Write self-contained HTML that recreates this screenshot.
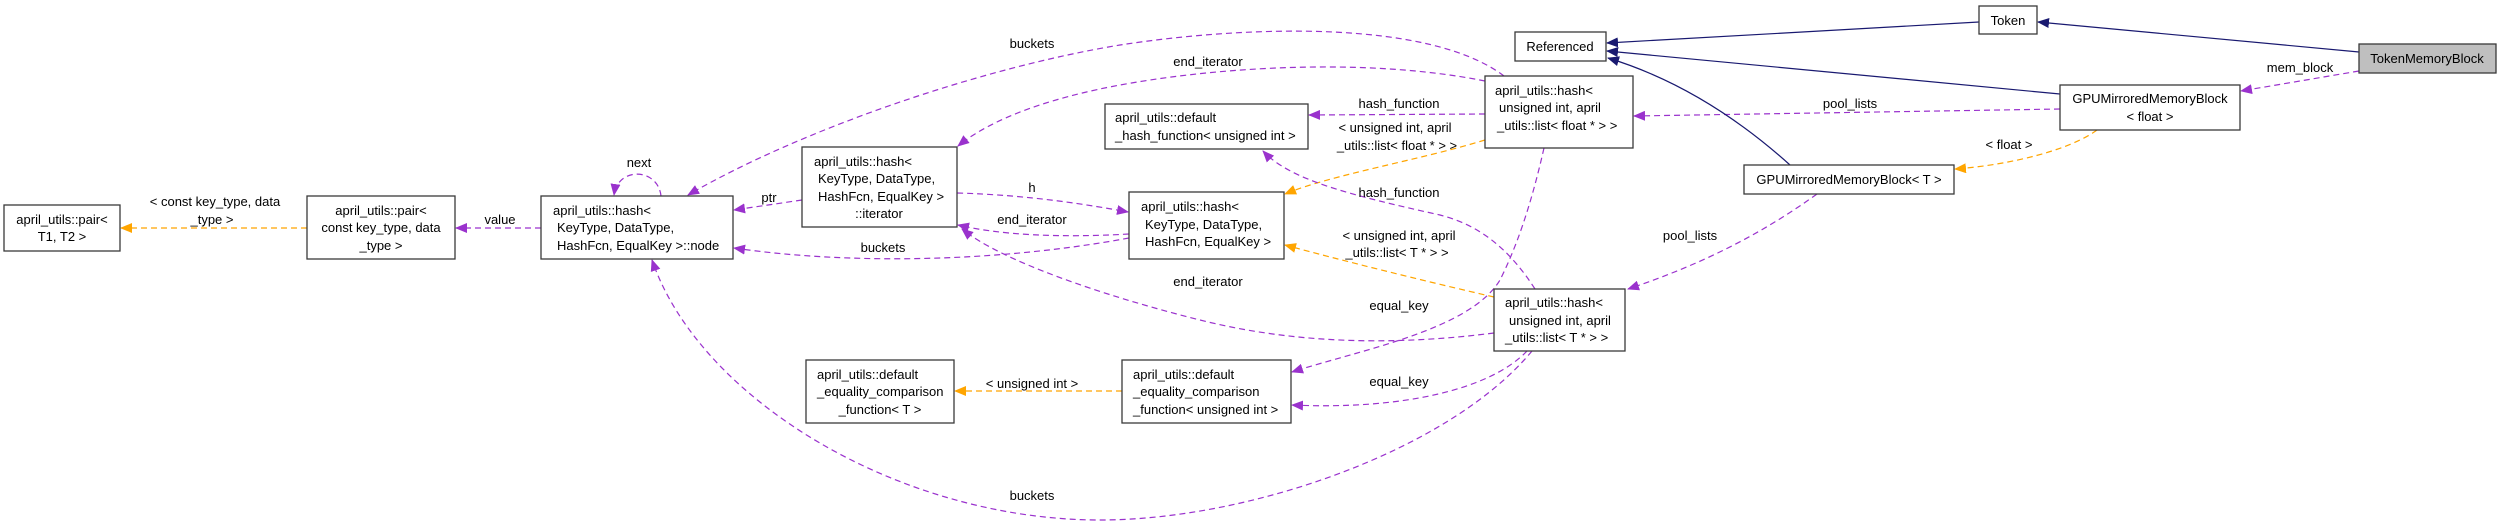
<!DOCTYPE html>
<html><head><meta charset="utf-8"><style>
html,body{margin:0;padding:0;background:#fff;}
svg{display:block;}
text{font-family:"Liberation Sans",Helvetica,sans-serif;font-size:13px;fill:#000;}
.b{fill:#fff;stroke:#3a3a3a;stroke-width:1.3;}
.p{fill:none;stroke:#9a32cd;stroke-width:1.2;stroke-dasharray:6,4;}
.o{fill:none;stroke:#ffa500;stroke-width:1.2;stroke-dasharray:6,4;}
.n{fill:none;stroke:#191970;stroke-width:1.2;}
</style></head><body>
<svg width="2504" height="526" viewBox="0 0 2504 526" xmlns="http://www.w3.org/2000/svg">
<defs>
<marker id="mp" markerWidth="12" markerHeight="10" refX="11" refY="5" orient="auto" markerUnits="userSpaceOnUse"><path d="M0,0 L12,5 L0,10 z" fill="#9a32cd"/></marker>
<marker id="mo" markerWidth="12" markerHeight="10" refX="11" refY="5" orient="auto" markerUnits="userSpaceOnUse"><path d="M0,0 L12,5 L0,10 z" fill="#ffa500"/></marker>
<marker id="mn" markerWidth="12" markerHeight="10" refX="11" refY="5" orient="auto" markerUnits="userSpaceOnUse"><path d="M0,0 L12,5 L0,10 z" fill="#191970"/></marker>
</defs>

<!-- edges -->
<path class="o" d="M307,228 L121,228" marker-end="url(#mo)"/>
<path class="p" d="M541,228 L456,228" marker-end="url(#mp)"/>
<path class="p" d="M661,196 C658,168 618,166 614,195" marker-end="url(#mp)"/>
<path class="p" d="M1504,76 C1430,20 1250,25 1120,45 C980,68 800,130 688,195" marker-end="url(#mp)"/>
<path class="p" d="M1485,81 C1380,60 1250,65 1150,80 C1050,95 990,120 958,146" marker-end="url(#mp)"/>
<path class="p" d="M1485,114 L1309,115" marker-end="url(#mp)"/>
<path class="o" d="M1485,140 C1420,160 1330,175 1285,194" marker-end="url(#mo)"/>
<path class="p" d="M1544,148 C1530,210 1515,250 1500,280 C1470,330 1360,350 1292,372" marker-end="url(#mp)"/>
<path class="p" d="M1535,289 C1510,250 1480,225 1440,215 C1350,195 1290,180 1263,151" marker-end="url(#mp)"/>
<path class="p" d="M802,200 L734,210" marker-end="url(#mp)"/>
<path class="p" d="M957,193 C1030,195 1090,205 1128,212" marker-end="url(#mp)"/>
<path class="p" d="M1129,234 C1060,238 1000,235 958,225" marker-end="url(#mp)"/>
<path class="p" d="M1129,238 C1000,262 850,265 734,248" marker-end="url(#mp)"/>
<path class="o" d="M1494,297 C1420,280 1340,260 1285,245" marker-end="url(#mo)"/>
<path class="p" d="M1494,333 C1400,345 1300,345 1200,320 C1100,295 1000,260 962,229" marker-end="url(#mp)"/>
<path class="p" d="M1527,351 C1490,390 1400,410 1292,405" marker-end="url(#mp)"/>
<path class="p" d="M1532,351 C1450,450 1250,520 1100,520 C900,520 700,400 652,260" marker-end="url(#mp)"/>
<path class="o" d="M1122,391 L955,391" marker-end="url(#mo)"/>
<path class="p" d="M1817,194 C1760,235 1700,265 1628,289" marker-end="url(#mp)"/>
<path class="p" d="M2060,109 L1634,116" marker-end="url(#mp)"/>
<path class="o" d="M2097,130 C2070,150 2010,165 1955,169" marker-end="url(#mo)"/>
<path class="p" d="M2359,71 L2241,91" marker-end="url(#mp)"/>
<path class="n" d="M2359,52 L2038,22" marker-end="url(#mn)"/>
<path class="n" d="M1979,22 L1607,43" marker-end="url(#mn)"/>
<path class="n" d="M2060,94 L1607,51" marker-end="url(#mn)"/>
<path class="n" d="M1790,165 C1740,120 1680,80 1608,58" marker-end="url(#mn)"/>

<!-- edge labels -->
<g text-anchor="middle">
<text x="215" y="206">&lt; const key_type, data</text>
<text x="212" y="224">_type &gt;</text>
<text x="500" y="224">value</text>
<text x="639" y="167">next</text>
<text x="1032" y="48">buckets</text>
<text x="1208" y="66">end_iterator</text>
<text x="1399" y="108">hash_function</text>
<text x="1395" y="132">&lt; unsigned int, april</text>
<text x="1397" y="150">_utils::list&lt; float * &gt; &gt;</text>
<text x="1399" y="197">hash_function</text>
<text x="769" y="202">ptr</text>
<text x="1032" y="192">h</text>
<text x="1032" y="224">end_iterator</text>
<text x="883" y="252">buckets</text>
<text x="1399" y="240">&lt; unsigned int, april</text>
<text x="1397" y="257">_utils::list&lt; T * &gt; &gt;</text>
<text x="1208" y="286">end_iterator</text>
<text x="1399" y="310">equal_key</text>
<text x="1399" y="386">equal_key</text>
<text x="1032" y="388">&lt; unsigned int &gt;</text>
<text x="1032" y="500">buckets</text>
<text x="2300" y="72">mem_block</text>
<text x="1850" y="108">pool_lists</text>
<text x="2009" y="149">&lt; float &gt;</text>
<text x="1690" y="240">pool_lists</text>
</g>

<!-- nodes -->
<rect class="b" x="4" y="205" width="116" height="46"/>
<g text-anchor="middle"><text x="62" y="224">april_utils::pair&lt;</text><text x="62" y="241">T1, T2 &gt;</text></g>

<rect class="b" x="307" y="196" width="148" height="63"/>
<g text-anchor="middle"><text x="381" y="215">april_utils::pair&lt;</text><text x="381" y="232">const key_type, data</text><text x="381" y="250">_type &gt;</text></g>

<rect class="b" x="541" y="196" width="192" height="63"/>
<text x="553" y="215">april_utils::hash&lt;</text><text x="557" y="232">KeyType, DataType,</text><text x="557" y="250">HashFcn, EqualKey &gt;::node</text>

<rect class="b" x="802" y="147" width="155" height="80"/>
<text x="814" y="166">april_utils::hash&lt;</text><text x="818" y="183">KeyType, DataType,</text><text x="818" y="201">HashFcn, EqualKey &gt;</text><text x="879" y="218" text-anchor="middle">::iterator</text>

<rect class="b" x="1129" y="192" width="155" height="67"/>
<text x="1141" y="211">april_utils::hash&lt;</text><text x="1145" y="229">KeyType, DataType,</text><text x="1145" y="246">HashFcn, EqualKey &gt;</text>

<rect class="b" x="1105" y="104" width="203" height="45"/>
<text x="1115" y="122">april_utils::default</text><text x="1115" y="140">_hash_function&lt; unsigned int &gt;</text>

<rect class="b" x="1485" y="76" width="148" height="72"/>
<text x="1495" y="95">april_utils::hash&lt;</text><text x="1499" y="112">unsigned int, april</text><text x="1497" y="130">_utils::list&lt; float * &gt; &gt;</text>

<rect class="b" x="1494" y="289" width="131" height="62"/>
<text x="1505" y="307">april_utils::hash&lt;</text><text x="1509" y="325">unsigned int, april</text><text x="1505" y="342">_utils::list&lt; T * &gt; &gt;</text>

<rect class="b" x="806" y="360" width="148" height="63"/>
<text x="817" y="379">april_utils::default</text><text x="817" y="396">_equality_comparison</text><text x="880" y="414" text-anchor="middle">_function&lt; T &gt;</text>

<rect class="b" x="1122" y="360" width="169" height="63"/>
<text x="1133" y="379">april_utils::default</text><text x="1133" y="396">_equality_comparison</text><text x="1133" y="414">_function&lt; unsigned int &gt;</text>

<rect class="b" x="1515" y="32" width="91" height="29"/>
<text x="1560" y="51" text-anchor="middle">Referenced</text>

<rect class="b" x="1979" y="6" width="58" height="28"/>
<text x="2008" y="25" text-anchor="middle">Token</text>

<rect x="2359" y="44" width="137" height="29" fill="#bfbfbf" stroke="#3a3a3a" stroke-width="1.3"/>
<text x="2427" y="63" text-anchor="middle">TokenMemoryBlock</text>

<rect class="b" x="2060" y="85" width="180" height="45"/>
<g text-anchor="middle"><text x="2150" y="103">GPUMirroredMemoryBlock</text><text x="2150" y="121">&lt; float &gt;</text></g>

<rect class="b" x="1744" y="165" width="210" height="29"/>
<text x="1849" y="184" text-anchor="middle">GPUMirroredMemoryBlock&lt; T &gt;</text>
</svg>
</body></html>
